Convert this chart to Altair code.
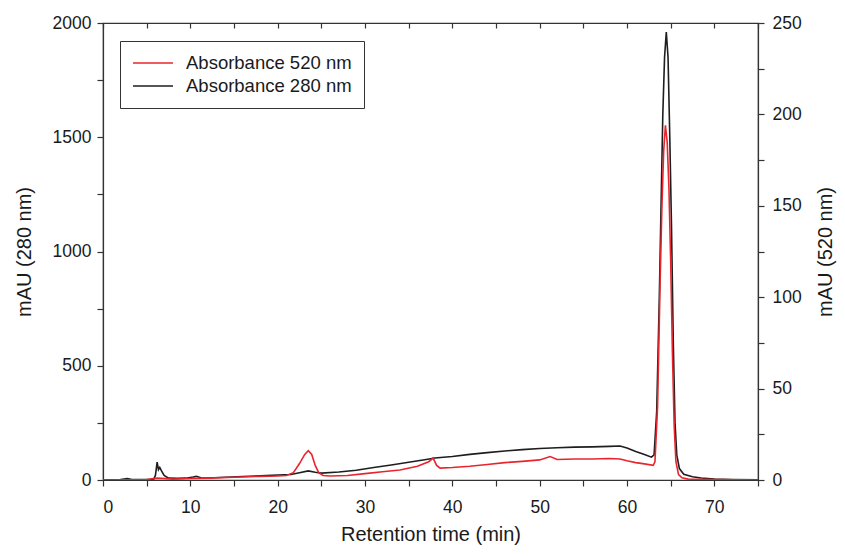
import altair as alt
import pandas as pd

# Absorbance 280 nm (left axis, mAU)
t280 = [0, 1, 2, 2.8, 3.3, 5, 5.8, 6.0, 6.2, 6.35, 6.5, 6.7, 7.0, 7.5, 8.5, 9.5, 10.3, 10.7, 11.2,
        12, 14, 16, 18, 20, 21.5, 22.5, 23.5, 24.3, 25, 27, 29, 31, 33, 35, 37, 38, 40, 42, 44, 46,
        48, 50, 52, 54, 56, 58, 59.2, 60, 61, 62, 62.8, 63.1, 63.4, 63.7, 63.9, 64.1, 64.3, 64.5,
        64.7, 64.9, 65.1, 65.3, 65.5, 65.7, 66.0, 66.5, 67.5, 68.5, 70, 72, 75]
v280 = [0, 1, 2, 6, 2, 2, 3, 20, 78, 45, 55, 40, 20, 8, 7, 8, 13, 16, 10,
        9, 12, 15, 18, 22, 24, 32, 40, 34, 30, 35, 43, 55, 66, 78, 90, 96, 103, 112, 120, 127,
        133, 138, 141, 144, 145, 147, 149, 140, 125, 112, 100, 110, 300, 800, 1200, 1600, 1850, 1960,
        1850, 1500, 1100, 600, 250, 110, 50, 25, 14, 9, 4, 2, 1]

# Absorbance 520 nm (right axis, mAU)
t520 = [0, 5, 6.2, 8, 10, 12, 15, 18, 20, 21, 21.8, 22.5, 23.1, 23.5, 23.9, 24.3, 24.7, 25.2, 26,
        28, 30, 32, 34, 36, 37.3, 37.8, 38.2, 38.6, 40, 42, 44, 46, 48, 50, 51.2, 52, 54, 56, 58,
        59.2, 60, 61, 62, 63, 63.2, 63.5, 63.8, 64.0, 64.2, 64.4, 64.6, 64.8, 65.0, 65.2, 65.4,
        65.6, 65.9, 66.3, 67, 70, 75]
v520 = [0, 0.3, 1, 0.5, 0.8, 1, 1.5, 2, 2.2, 2.5, 4, 9, 14, 16, 14, 8, 4, 2.5, 2.2,
        2.5, 3.5, 4.5, 5.5, 7.5, 10, 12, 8, 6.5, 6.8, 7.5, 8.5, 9.5, 10.2, 11, 12.8, 11.2, 11.5, 11.5, 11.8,
        11.5, 10.5, 9.5, 8.8, 8, 10, 40, 110, 150, 180, 194, 185, 160, 120, 70, 30,
        10, 3, 1.2, 0.5, 0.2, 0]

series_names = ["Absorbance 520 nm", "Absorbance 280 nm"]
series_colors = ["#e8252d", "#1e1e1e"]

x_ticks = list(range(0, 80, 5))
left_ticks = list(range(0, 2250, 250))
right_ticks = list(range(0, 275, 25))

df280 = pd.DataFrame({"t": t280, "v": v280, "series": series_names[1]})
df520 = pd.DataFrame({"t": t520, "v": v520, "series": series_names[0]})

FONT = "Liberation Sans"
TXT = "#1a1a1a"

color = alt.Color(
    "series:N",
    scale=alt.Scale(domain=series_names, range=series_colors),
    legend=alt.Legend(
        title=None, orient="none", legendX=17, legendY=18,
        strokeColor="#333333", padding=12, fillColor="white",
        symbolType="stroke", symbolSize=1600, symbolStrokeWidth=1.6,
        clipHeight=20,
        labelFontSize=18.5, labelFont=FONT, labelColor=TXT, labelOffset=12,
        rowPadding=3, labelLimit=400,
    ),
)

x_scale = alt.Scale(domain=[0, 75], nice=False, zero=False)

black = alt.Chart(df280).mark_line(strokeWidth=1.6, clip=True).encode(
    x=alt.X("t:Q", scale=x_scale,
            axis=alt.Axis(orient="bottom", values=x_ticks, title="Retention time (min)",
                          format="d",
                          labelExpr="datum.value % 10 == 0 ? datum.label : ''",
                          tickSize=6, labelPadding=12, titlePadding=9, grid=False)),
    y=alt.Y("v:Q", scale=alt.Scale(domain=[0, 2000], nice=False),
            axis=alt.Axis(orient="left", values=left_ticks, title="mAU (280 nm)",
                          format="d",
                          labelExpr="datum.value % 500 == 0 ? datum.label : ''",
                          tickSize=6, labelPadding=6, titlePadding=18, grid=False)),
    color=color,
)

red = alt.Chart(df520).mark_line(strokeWidth=1.6, clip=True).encode(
    x=alt.X("t:Q", scale=x_scale,
            axis=alt.Axis(orient="top", values=x_ticks, title=None, labels=False,
                          tickSize=5, offset=-5, domain=False, grid=False)),
    y=alt.Y("v:Q", scale=alt.Scale(domain=[0, 250], nice=False),
            axis=alt.Axis(orient="right", values=right_ticks, title="mAU (520 nm)",
                          format="d",
                          labelExpr="datum.value % 50 == 0 ? datum.label : ''",
                          titleAngle=270, titleBaseline="top",
                          tickSize=6, labelPadding=8, titlePadding=14, grid=False)),
    color=color,
)

chart = alt.layer(black, red).resolve_scale(y="independent").resolve_axis(
    x="independent", y="independent"
).properties(
    width=655, height=457,
    autosize=alt.AutoSizeParams(type="none"),
    padding={"left": 95, "top": 15, "right": 79, "bottom": 66},
).configure_view(
    stroke="#333333", strokeWidth=1.2
).configure_axis(
    labelFont=FONT, titleFont=FONT, labelFontSize=17.5, titleFontSize=20,
    labelColor=TXT, titleColor=TXT, titleFontWeight="normal",
    domainColor="#333333", tickColor="#333333", domainWidth=1.2, tickWidth=1.2,
)

chart.save("out.html", embed_options={"renderer": "svg", "actions": False})
